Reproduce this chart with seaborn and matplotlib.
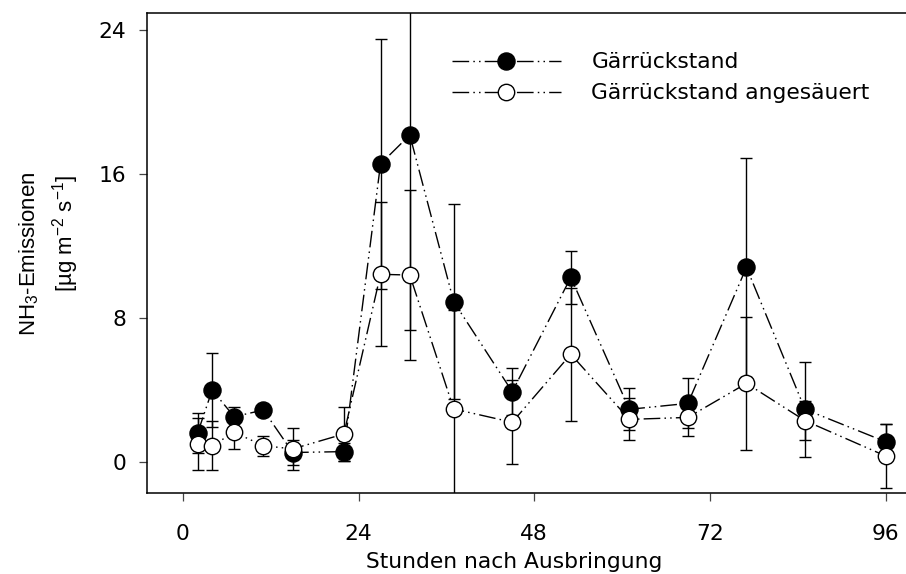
import matplotlib
matplotlib.use("Agg")
import matplotlib.pyplot as plt
import seaborn as sns
import pandas as pd
from matplotlib.lines import Line2D

# Hours after application
hours = [2, 4, 7, 11, 15, 22, 27, 31, 37, 45, 53, 61, 69, 77, 85, 96]

# NH3 emissions, digestate (untreated)
gaer_mean = [1.57, 3.97, 2.49, 2.86, 0.50, 0.55, 16.53, 18.14, 8.88, 3.88,
             10.23, 2.90, 3.23, 10.79, 2.90, 1.10]
gaer_sd = [1.10, 2.04, 0.55, 0.15, 0.68, 0.50, 6.93, 10.84, 5.41, 1.30,
           1.48, 1.17, 1.39, 6.10, 2.65, 0.98]

# NH3 emissions, acidified digestate
sauer_mean = [0.97, 0.88, 1.62, 0.88, 0.70, 1.53, 10.40, 10.36, 2.92, 2.18,
              5.96, 2.34, 2.45, 4.34, 2.27, 0.31]
sauer_sd = [1.45, 1.35, 0.92, 0.55, 1.18, 1.50, 4.00, 4.72, 5.50, 2.34,
            3.69, 1.17, 1.03, 3.70, 1.10, 1.80]

labels = ["Gärrückstand", "Gärrückstand angesäuert"]
y_ticks = [0, 8, 16, 24]
x_ticks = [0, 24, 48, 72, 96]

sns.set_theme(style="ticks")
plt.rcParams["font.family"] = ["DejaVu Sans"]
plt.rcParams["mathtext.fontset"] = "custom"
plt.rcParams["mathtext.rm"] = "Liberation Sans"
plt.rcParams["mathtext.it"] = "Liberation Sans:italic"
plt.rcParams["text.color"] = "black"
plt.rcParams["xtick.labelcolor"] = "black"
plt.rcParams["ytick.labelcolor"] = "black"

FS = 15.7
FS_Y = 16
dash = (0, (12, 3, 1.1, 3, 1.1, 3))

fig = plt.figure(figsize=(9.06, 5.74), dpi=100)
ax = fig.add_axes([0.1623, 0.1411, 0.8377, 0.8363])

df = pd.DataFrame({"h": hours, "g": gaer_mean, "s": sauer_mean})

ax.errorbar(hours, gaer_mean, yerr=gaer_sd, fmt="none", ecolor="black",
            elinewidth=1.0, capsize=4, capthick=1.0, zorder=1.5)
ax.errorbar(hours, sauer_mean, yerr=sauer_sd, fmt="none", ecolor="black",
            elinewidth=1.0, capsize=4, capthick=1.0, zorder=1.6)

sns.lineplot(data=df, x="h", y="g", ax=ax, sort=False, errorbar=None,
             color="black", linewidth=1.0, linestyle=dash, marker="o",
             markersize=12.3, markerfacecolor="black", markeredgecolor="black",
             markeredgewidth=1.0, zorder=3)
sns.lineplot(data=df, x="h", y="s", ax=ax, sort=False, errorbar=None,
             color="black", linewidth=1.0, linestyle=dash, marker="o",
             markersize=11.8, markerfacecolor="white", markeredgecolor="black",
             markeredgewidth=1.0, zorder=4)

ax.set_xlim(-4.9, 98.8)
ax.set_ylim(-1.75, 24.92)
ax.set_xticks(x_ticks)
ax.set_yticks(y_ticks)
ax.set_xticklabels([str(t) for t in x_ticks], fontsize=FS, color="black")
ax.set_yticklabels([str(t) for t in y_ticks], fontsize=FS, color="black")
ax.tick_params(axis="both", direction="out", length=6, width=0.9,
               color="#444444")
ax.tick_params(axis="y", pad=9)
ax.tick_params(axis="x", pad=16)

for side in ["left", "top", "bottom"]:
    ax.spines[side].set_visible(True)
    ax.spines[side].set_color("black")
    ax.spines[side].set_linewidth(1.1)
ax.spines["right"].set_visible(False)

ax.set_xlabel("")
ax.set_ylabel("")
fig.text(514 / 906, 1 - 562 / 574, "Stunden nach Ausbringung", fontsize=FS,
         ha="center", va="center", color="black")
fig.text(29 / 906, 1 - 254 / 574, "NH$_3$-Emissionen", fontsize=FS_Y,
         family=["Liberation Sans", "DejaVu Sans"],
         rotation=90, ha="center", va="center", color="black")
fig.text(66 / 906, 1 - 233 / 574, "[µg m$^{-2}$ s$^{-1}$]", fontsize=FS_Y,
         family=["Liberation Sans", "DejaVu Sans"],
         rotation=90, ha="center", va="center", color="black")

handles = [
    Line2D([], [], color="black", linewidth=1.0, linestyle=dash, marker="o",
           markersize=12.3, markerfacecolor="black", markeredgecolor="black"),
    Line2D([], [], color="black", linewidth=1.0, linestyle=dash, marker="o",
           markersize=11.8, markerfacecolor="white", markeredgecolor="black"),
]
leg = ax.legend(handles, labels, loc="center left",
                bbox_to_anchor=(0.39, 0.865), frameon=False, fontsize=FS,
                handlelength=5.0, handletextpad=1.4, labelspacing=0.5,
                borderaxespad=0)
for t in leg.get_texts():
    t.set_color("black")

fig.savefig("out.png", dpi=100)
